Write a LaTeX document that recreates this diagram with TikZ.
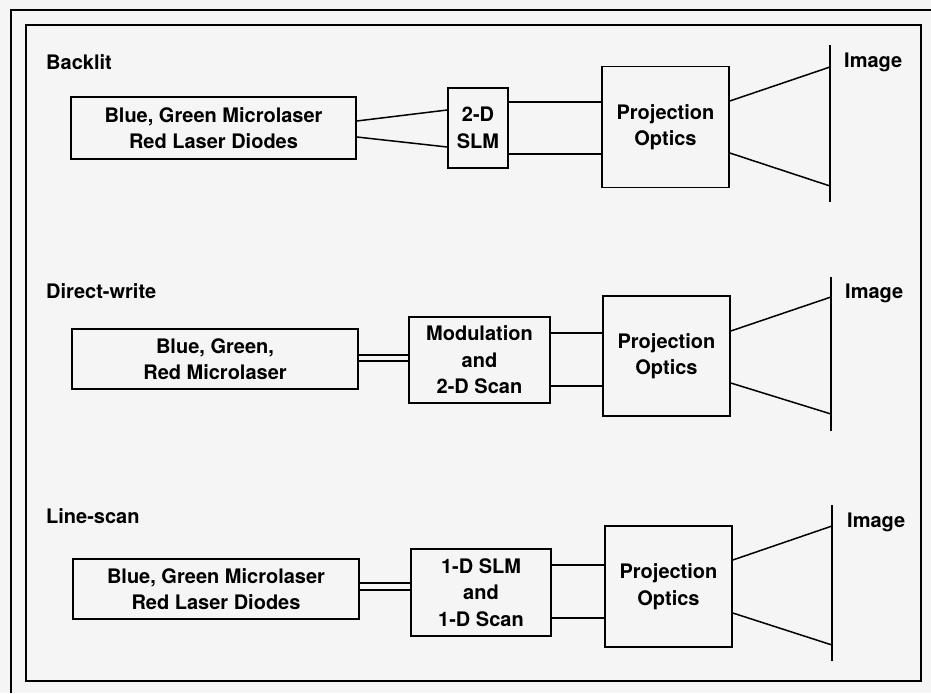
\documentclass[tikz,border=0pt]{standalone}
\usepackage{fontspec}
\setmainfont{TeX Gyre Heros}
\usetikzlibrary{calc}

\begin{document}
\begin{tikzpicture}[x=1pt, y=-1pt,
  blk/.style={draw, line width=1.6pt, inner sep=0pt, align=center,
    font=\bfseries\fontsize{20}{26.5}\selectfont},
  ray/.style={line width=1.5pt},
  lbl/.style={anchor=base west, inner sep=0pt, font=\bfseries\fontsize{20}{24}\selectfont}]

% Page and frames
\fill[black!4] (0,0) rectangle (931,693);
\useasboundingbox (0,0) rectangle (931,693);
\draw[line width=1.6pt] (11,693) -- (11,10) -- (931,10);
\draw[line width=1.6pt] (26,25) rectangle (921,681);

% Backlit
\node[lbl] (titA) at (46,70) {Backlit};
\node[blk, minimum width=285, minimum height=62] (lasA) at (213.5,128) {Blue, Green Microlaser\\Red Laser Diodes};
\node[blk, minimum width=60, minimum height=80] (slmA) at (478,128) {2-D\\SLM};
\node[blk, minimum width=127, minimum height=121] (projA) at (665.5,127) {Projection\\Optics};
\coordinate (imgAtop) at (830,45);
\coordinate (imgAbot) at (830,202);
\node[lbl] (imgA) at (844,67) {Image};
\draw[ray] ($(lasA.east)+(0,-7)$) -- ($(slmA.west)+(0,-18)$);
\draw[ray] ($(lasA.east)+(0,9)$) -- ($(slmA.west)+(0,19)$);
\draw[ray] ($(slmA.east)+(0,-26)$) -- ($(projA.west)+(0,-25)$);
\draw[ray] ($(slmA.east)+(0,26)$) -- ($(projA.west)+(0,27)$);
\draw[ray] ($(projA.east)+(0,-26)$) -- (imgAtop |- 0,67);
\draw[ray] ($(projA.east)+(0,26)$) -- (imgAtop |- 0,186);
\draw[ray] (imgAtop) -- (imgAbot);

% Direct-write
\node[lbl] (titB) at (46,298) {Direct-write};
\node[blk, minimum width=286, minimum height=60] (lasB) at (215,359) {Blue, Green,\\Red Microlaser};
\node[blk, minimum width=141, minimum height=86] (modB) at (479.5,360) {Modulation\\and\\2-D Scan};
\node[blk, minimum width=127, minimum height=120] (projB) at (666.5,356) {Projection\\Optics};
\coordinate (imgBtop) at (831,277);
\coordinate (imgBbot) at (831,431);
\node[lbl] (imgB) at (845,298) {Image};
\draw[ray] ($(lasB.east)+(0,-4)$) -- ($(modB.west)+(0,-5)$);
\draw[ray] ($(lasB.east)+(0,2)$) -- ($(modB.west)+(0,1)$);
\draw[ray] ($(modB.east)+(0,-27)$) -- ($(projB.west)+(0,-23)$);
\draw[ray] ($(modB.east)+(0,26)$) -- ($(projB.west)+(0,30)$);
\draw[ray] ($(projB.east)+(0,-25)$) -- (imgBtop |- 0,297);
\draw[ray] ($(projB.east)+(0,27)$) -- (imgBtop |- 0,414);
\draw[ray] (imgBtop) -- (imgBbot);

% Line-scan
\node[lbl] (titC) at (46,523) {Line-scan};
\node[blk, minimum width=286, minimum height=60] (lasC) at (216,589) {Blue, Green Microlaser\\Red Laser Diodes};
\node[blk, minimum width=140, minimum height=87] (scnC) at (481,592.5) {1-D SLM\\and\\1-D Scan};
\node[blk, minimum width=127, minimum height=121] (projC) at (668.5,586.5) {Projection\\Optics};
\coordinate (imgCtop) at (832,505);
\coordinate (imgCbot) at (832,661);
\node[lbl] (imgC) at (847,527) {Image};
\draw[ray] ($(lasC.east)+(0,-6)$) -- ($(scnC.west)+(0,-9.5)$);
\draw[ray] ($(lasC.east)+(0,1)$) -- ($(scnC.west)+(0,-2.5)$);
\draw[ray] ($(scnC.east)+(0,-27.5)$) -- ($(projC.west)+(0,-21.5)$);
\draw[ray] ($(scnC.east)+(0,25.5)$) -- ($(projC.west)+(0,31.5)$);
\draw[ray] ($(projC.east)+(0,-26.5)$) -- (imgCtop |- 0,526);
\draw[ray] ($(projC.east)+(0,26.5)$) -- (imgCtop |- 0,645);
\draw[ray] (imgCtop) -- (imgCbot);
\end{tikzpicture}
\end{document}
